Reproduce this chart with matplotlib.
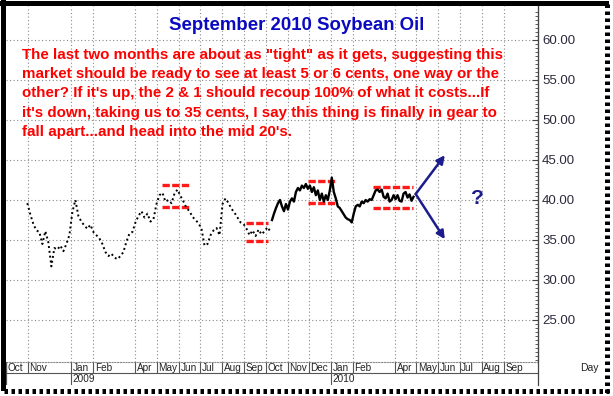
import pandas as pd
import matplotlib
matplotlib.use("Agg")
import matplotlib.pyplot as plt
from matplotlib.transforms import offset_copy

# ---- data ----
early_start, early_end = "2008-10-31", "2009-10-08"
early_close = [39.6, 38.2, 37.0, 36.2, 36.0, 34.5, 36.1, 34.7, 31.7, 34.0,
               33.8, 34.3, 33.6, 34.5, 35.6, 38.5, 40.0, 38.0, 37.3, 36.8,
               36.4, 36.9, 36.0, 35.6, 35.2, 34.5, 33.5, 33.0, 33.3, 32.8,
               32.6, 33.0, 33.5, 34.8, 35.8, 36.0, 37.2, 38.0, 38.6, 37.8,
               38.3, 37.3, 37.6, 39.5, 40.6, 40.9, 39.8, 40.0, 39.6, 40.8,
               41.3, 40.5, 39.8, 39.0, 38.6, 37.9, 37.5, 37.1, 36.4, 34.3,
               34.5, 35.6, 36.2, 36.5, 35.6, 39.5, 40.2, 39.6, 38.9, 38.4,
               37.8, 37.2, 37.0, 36.4, 35.6, 36.2, 35.5, 36.3, 35.7, 36.1,
               36.6, 36.0]

late_start, late_end = "2009-10-10", "2010-04-27"
late_close = [37.5, 38.3, 39.0, 39.6, 40.0, 39.2, 38.6, 39.5, 38.8, 39.8,
              40.2, 39.8, 41.0, 41.5, 41.2, 41.8, 41.5, 42.0, 41.4, 41.8,
              41.0, 41.6, 40.6, 41.2, 40.0, 40.8, 39.8, 40.6, 40.0, 41.2,
              42.8, 41.0, 40.2, 39.2, 39.0, 38.6, 38.2, 37.8, 37.6, 37.5,
              37.2, 38.3, 39.2, 39.4, 39.2, 39.8, 39.6, 40.0, 39.8, 40.1,
              40.0, 40.6, 41.2, 41.3, 41.0, 41.3, 40.4, 40.2, 40.8, 39.8,
              40.0, 40.6, 40.1, 40.6, 39.9, 39.8, 40.8, 41.0, 40.3, 40.7,
              39.9, 40.4]

level_start = ["2009-05-08", "2009-09-04", "2009-11-29", "2010-03-01"]
level_end = ["2009-06-16", "2009-10-05", "2010-01-06", "2010-04-26"]
level_high = [41.9, 37.1, 42.4, 41.6]
level_low = [39.1, 34.9, 39.6, 39.0]

arrow_from = ("2010-04-30", 40.75)
arrow_targets = [("2010-06-10", 45.6), ("2010-06-10", 35.1)]
question_at = ("2010-07-26", 40.25)

month_starts = pd.date_range("2008-10-01", "2010-09-01", freq="MS")
month_labels = ["Oct", "Nov", "", "Jan", "Feb", "", "Apr", "May", "Jun", "Jul",
                "Aug", "Sep", "Oct", "Nov", "Dec", "Jan", "Feb", "", "Apr",
                "May", "Jun", "Jul", "Aug", "Sep"]
year_starts = ["2009-01-01", "2010-01-01"]
year_labels = ["2009", "2010"]
y_ticks = [25, 30, 35, 40, 45, 50, 55, 60]

title = "September 2010 Soybean Oil"
note = ("The last two months are about as \"tight\" as it gets, suggesting this\n"
        "market should be ready to see at least 5 or 6 cents, one way or the\n"
        "other? If it's up, the 2 & 1 should recoup 100% of what it costs...If\n"
        "it's down, taking us to 35 cents, I say this thing is finally in gear to\n"
        "fall apart...and head into the mid 20's.")

# ---- layout in pixels ----
W, H = 613, 396
plt.rcParams['font.family'] = ['Liberation Sans', 'DejaVu Sans']
fig = plt.figure(figsize=(W / 100, H / 100), dpi=100)


def fx(px):
    return px / W


def fy(py):
    return 1 - py / H


x0 = pd.Timestamp("2008-10-01")
x1 = pd.Timestamp("2010-10-19")
grid_kw = dict(color="#8a8a8a", lw=0.8, linestyle=(0, (1, 2.2)))

ax = fig.add_axes([fx(6), fy(362), fx(538) - fx(6), fy(6) - fy(362)])
ax.set_xlim(x0, x1)
ax.set_ylim(19.75, 64.25)

for y in y_ticks:
    ax.axhline(y, zorder=0, **grid_kw)
for d, lab in zip(month_starts, month_labels):
    if lab and d != month_starts[0]:
        ax.axvline(d, zorder=0, **grid_kw)

early_dates = pd.date_range(early_start, early_end, periods=len(early_close))
late_dates = pd.date_range(late_start, late_end, periods=len(late_close))
ax.plot(early_dates, early_close, color="black", lw=1.4,
        linestyle=(0, (1, 1.5)), zorder=3)
ax.plot(late_dates, late_close, color="black", lw=1.7, zorder=3)

for s, e, hi, lo in zip(level_start, level_end, level_high, level_low):
    ax.hlines([hi, lo], pd.Timestamp(s), pd.Timestamp(e), color="#ff1a1a",
              lw=2.4, linestyle=(0, (2.2, 0.7)), zorder=2)

for tx, ty in arrow_targets:
    ax.annotate("", xy=(pd.Timestamp(tx), ty),
                xytext=(pd.Timestamp(arrow_from[0]), arrow_from[1]),
                arrowprops=dict(arrowstyle="-|>", color="#1c1c8c", lw=1.8,
                                mutation_scale=12, shrinkA=0, shrinkB=0))
ax.text(pd.Timestamp(question_at[0]), question_at[1], "?", color="#1c1c8c",
        fontsize=15, fontweight="bold", ha="center", va="center")

ax.yaxis.tick_right()
ax.set_yticks(y_ticks)
ax.set_yticklabels(["%.2f" % v for v in y_ticks])
ax.set_yticks([v / 2 for v in range(40, 128)], minor=True)
ax.tick_params(axis="y", which="major", direction="in", length=4, pad=3,
               labelsize=9.5, labelcolor="#2a2a3a", color="#444")
ax.tick_params(axis="y", which="minor", direction="in", length=2, color="#444")
ax.set_xticks([])
for side in ["left", "top"]:
    ax.spines[side].set_visible(False)
ax.spines["right"].set_color("#444")
ax.spines["bottom"].set_color("#8a8a8a")
ax.spines["bottom"].set_linestyle((0, (1, 1.5)))

# ---- date band below the plot ----
bx = fig.add_axes([fx(6), fy(385), fx(538) - fx(6), fy(362) - fy(385)])
bx.set_xlim(x0, x1)
bx.set_ylim(0, 1)
bx.axis("off")
bx.axhline(0.52, color="#555", lw=0.8)
bx.axvline(x0, color="#555", lw=0.9)
trans = offset_copy(bx.transData, fig=fig, x=1.5, y=0, units="dots")
for d, lab in zip(month_starts, month_labels):
    if lab:
        bx.vlines(d, 0.52, 1, color="#555", lw=0.8)
        bx.text(d, 0.76, lab, transform=trans, fontsize=7.2, ha="left",
                va="center", color="#222")
for d, lab in zip(year_starts, year_labels):
    bx.vlines(pd.Timestamp(d), 0, 0.52, color="#555", lw=0.8)
    bx.text(pd.Timestamp(d), 0.25, lab, transform=trans, fontsize=7.2,
            ha="left", va="center", color="#222")

# right axis line continues through the band
fig.add_artist(plt.Line2D([fx(538), fx(538)], [fy(6), fy(385)], color="#444",
                          lw=0.9))
fig.text(fx(589), fy(368), "Day", fontsize=7.5, ha="center", va="center",
         color="#222")

# ---- texts ----
fig.text(fx(297), fy(26), title, color="#0a0ac0", fontsize=13.4,
         fontweight="bold", ha="center", va="center")
fig.text(fx(22), fy(48), note, color="#ff0000", fontsize=10.9,
         fontweight="bold", ha="left", va="top", linespacing=1.47)

# ---- picture frame ----
fig.add_artist(plt.Line2D([fx(2.5), fx(2.5)], [fy(0), fy(388)], color="black",
                          lw=3.6))
fig.add_artist(plt.Line2D([fx(0), fx(606)], [fy(2.5), fy(2.5)], color="black",
                          lw=3.6))
fig.add_artist(plt.Line2D([fx(607), fx(607)], [fy(4), fy(393)], color="black",
                          lw=3.6, linestyle=(0, (0.7, 0.7))))
fig.add_artist(plt.Line2D([fx(4), fx(609)], [fy(391), fy(391)], color="black",
                          lw=3.6, linestyle=(0, (0.7, 0.7))))

fig.savefig("out.png", dpi=100)
